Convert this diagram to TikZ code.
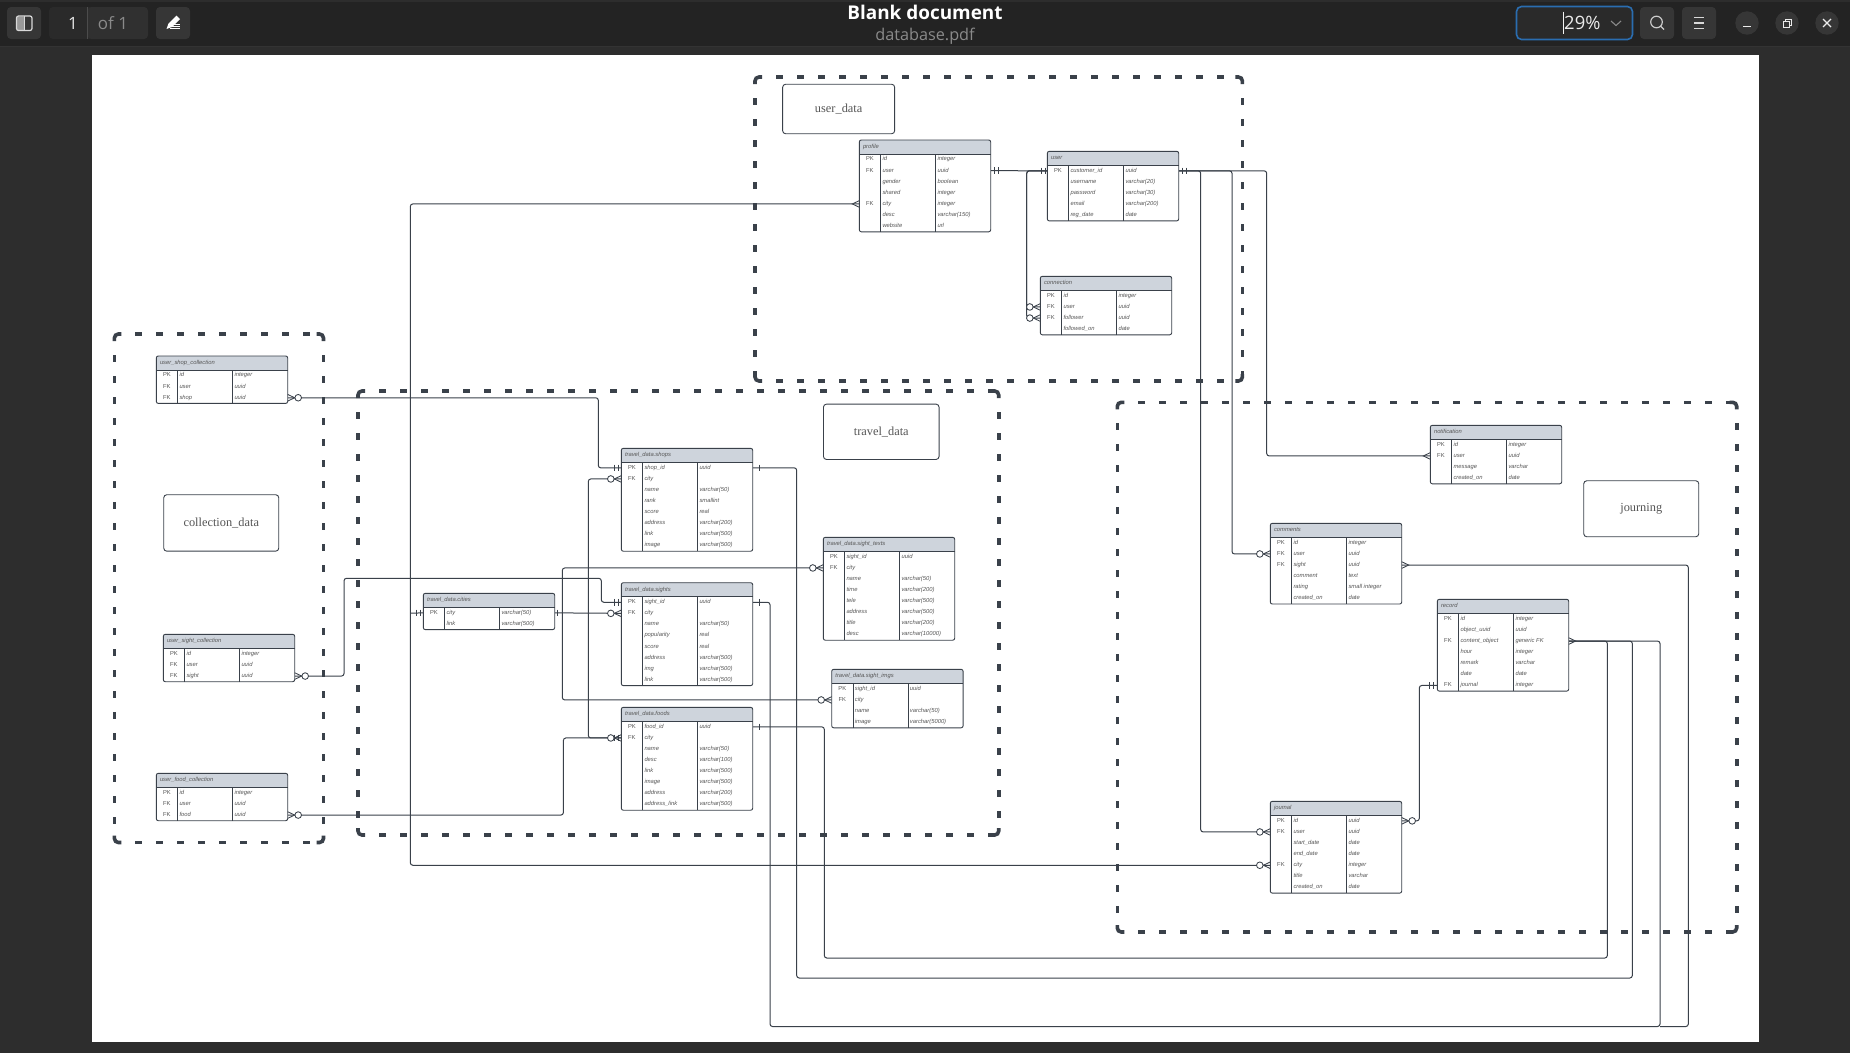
\documentclass[tikz,border=0pt]{standalone}
\usepackage{fontspec}
\setmainfont{Liberation Sans}
\newfontfamily\lblfont{Liberation Serif}
\newfontfamily\uifont{Open Sans}
\pgfdeclarelayer{pagebg}
\pgfdeclarelayer{connlayer}
\pgfsetlayers{pagebg,connlayer,main}
\definecolor{ink}{HTML}{3A414A}
\definecolor{headfill}{HTML}{CED4DC}
\definecolor{cellink}{HTML}{555555}
\definecolor{chromebg}{HTML}{2D2D2D}
\definecolor{barbg}{HTML}{232323}
\definecolor{btnbg}{HTML}{363636}
\definecolor{boxbg}{HTML}{2A2A2A}
\definecolor{uigray}{HTML}{8A8A8A}
\definecolor{focus}{HTML}{2A6DB0}
\tikzset{
  tablebox/.style={fill=white,rounded corners=2bp,inner sep=0pt,anchor=north west,minimum width=131.4bp},
  celltxt/.style={inner sep=0pt,anchor=base west,text=cellink,font=\fontsize{5.85}{7}\itshape\selectfont},
  keytxt/.style={inner sep=0pt,anchor=base,text=cellink,font=\fontsize{5.85}{7}\selectfont},
  conn/.style={draw=ink,line width=1bp,rounded corners=2.5bp},
  endmark/.style={draw=ink,line width=.85bp},
  zoneside/.style={draw=ink,line width=3.6bp,dash pattern=on 7bp off 14bp},
  zonecorner/.style={draw=ink,line width=3.6bp,rounded corners=4bp},
  labelbox/.style={draw=ink,line width=.9bp,fill=white,rounded corners=3bp,inner sep=0pt,text=cellink,font=\lblfont\fontsize{12.4}{14}\selectfont},
  uibtn/.style={fill=btnbg,rounded corners=4bp},
  uitxt/.style={inner sep=0pt,font=\uifont\fontsize{17}{20}\selectfont},
}
% name, x, y, rows, title, list
\newcommand{\ertable}[6]{%
  \node[tablebox,minimum height={14.1bp+11.1bp*#4}] (#1) at (#2,#3) {};
  \path[fill=headfill,rounded corners=2bp] ({#2},{#3+14}) -- ({#2},{#3}) -- ({#2+131.4},{#3}) [sharp corners] -- ({#2+131.4},{#3+14}) -- cycle;
  \draw[ink,line width=.9bp,rounded corners=2bp] ({#2},{#3+14.1+11.1*#4}) -- ({#2},{#3}) -- ({#2+131.4},{#3}) -- ({#2+131.4},{#3+14.1+11.1*#4}) -- cycle;
  \draw[ink,line width=.9bp] ({#2},{#3+14}) -- ({#2+131.4},{#3+14});
  \draw[ink,line width=.9bp] ({#2+21.3},{#3+14}) -- ({#2+21.3},{#3+14.1+11.1*#4});
  \draw[ink,line width=.9bp] ({#2+76.3},{#3+14}) -- ({#2+76.3},{#3+14.1+11.1*#4});
  \node[celltxt] (#1-title) at ({#2+3.5},{#3+8.6}) {#5};
  \foreach \kk/\cn/\ct [count=\i] in {#6} {
    \coordinate (#1-L\i) at ({#2},{#3+14+11.1*(\i-.5)});
    \coordinate (#1-R\i) at ({#2+131.4},{#3+14+11.1*(\i-.5)});
    \node[keytxt] (#1-k\i) at ({#2+10.6},{#3+15.4+11.1*(\i-.5)}) {\kk};
    \node[celltxt] (#1-c\i) at ({#2+23},{#3+15.4+11.1*(\i-.5)}) {\cn};
    \node[celltxt] (#1-t\i) at ({#2+78},{#3+15.4+11.1*(\i-.5)}) {\ct};
  }
}
% dashed zone: corners are solid strokes, sides are dashed from corner to corner
\newcommand{\zone}[4]{%
  \draw[zonecorner] (#1,{#2+7}) -- (#1,#2) -- ({#1+7},#2);
  \draw[zonecorner] ({#3-7},#2) -- (#3,#2) -- (#3,{#2+7});
  \draw[zonecorner] (#3,{#4-7}) -- (#3,#4) -- ({#3-7},#4);
  \draw[zonecorner] ({#1+7},#4) -- (#1,#4) -- (#1,{#4-7});
  \draw[zoneside] ({#1+21},#2) -- ({#3-7},#2);
  \draw[zoneside] ({#1+21},#4) -- ({#3-7},#4);
  \draw[zoneside] (#1,{#2+21}) -- (#1,{#4-7});
  \draw[zoneside] (#3,{#2+21}) -- (#3,{#4-7});
}
% end marks: coordinate, direction (+1 line leaves to the right, -1 to the left)
\newcommand{\crowmark}[2]{\begin{scope}[shift={(#1)},xscale=#2]
  \draw[endmark] (0,-3.3) -- (7,0) -- (0,3.3);
\end{scope}}
\newcommand{\crowzero}[2]{\begin{scope}[shift={(#1)},xscale=#2]
  \draw[endmark] (0,-3.3) -- (7,0) -- (0,3.3);
  \draw[endmark,fill=white] (10.5,0) circle (3.3);
\end{scope}}
\newcommand{\onebar}[3]{\begin{scope}[shift={(#1)},xscale=#2]
  \draw[endmark] (#3,-3.3) -- (#3,3.3);
\end{scope}}
\newcommand{\twobars}[3]{\begin{scope}[shift={(#1)},xscale=#2]
  \draw[endmark] (#3,-3.3) -- (#3,3.3);
  \draw[endmark] (#3+3.8,-3.3) -- (#3+3.8,3.3);
\end{scope}}
\begin{document}
\begin{tikzpicture}[x=1bp,y=-1bp]
\useasboundingbox (0,0) rectangle (1850,1053);
\begin{pgfonlayer}{pagebg}
  % window chrome
  \fill[chromebg] (0,0) rectangle (1850,1053);
  \fill[barbg] (0,2) rectangle (1850,46);
  \draw[black!80,line width=1bp] (0,46.5) -- (1850,46.5);
  \fill[white] (92,55) rectangle (1759,1042);
  % zones
  \zone{755}{77}{1242.4}{381}
  \zone{358}{391}{998.7}{835}
  \zone{114.4}{334}{323.5}{842.5}
  \zone{1117.3}{402.3}{1736.7}{932}
\end{pgfonlayer}

% window controls
\fill[uibtn] (7,7) rectangle (41,39);
\fill[white!60!black,rounded corners=1bp] (17,16.5) rectangle (24.5,30.5);
\draw[white!85!black,line width=1.2bp,rounded corners=2bp] (16.5,16) rectangle (32,30.5);
\draw[white!85!black,line width=1bp] (24.5,16) -- (24.5,30.5);
\fill[boxbg,rounded corners=4bp] (49,7) rectangle (148,39);
\fill[btnbg!50!boxbg,rounded corners=4bp] (87.5,7) rectangle (148,39);
\draw[black!70,line width=1bp] (87.5,7) -- (87.5,39);
\node[uitxt,text=white!90!black] (pagenum) at (73,23) {1};
\node[uitxt,text=uigray] (pageof) at (113,23) {of 1};
\fill[uibtn] (156,7) rectangle (190,39);
\fill[white] (166.5,29) -- (168.5,23.5) -- (176.5,15.5) -- (180,19) -- (172,27) -- cycle;
\draw[white,line width=.8bp] (174,24.5) -- (180,24.5) (172,26.5) -- (180,26.5) (170,28.6) -- (180,28.6);
\node[inner sep=0pt,text=white,font=\uifont\bfseries\fontsize{19}{22}\selectfont] (doctitle) at (925,12.5) {Blank document};
\node[inner sep=0pt,text=uigray,font=\uifont\fontsize{16.3}{18}\selectfont] (docfile) at (925,36) {database.pdf};
\fill[boxbg,rounded corners=5bp] (1516.5,6.5) rectangle (1632.5,39.5);
\draw[focus,line width=1.6bp,rounded corners=5bp] (1516.5,6.5) rectangle (1632.5,39.5);
\node[uitxt,anchor=west,text=white!92!black,font=\uifont\fontsize{18.5}{22}\selectfont] (zoomval) at (1564,23) {29\%};
\draw[white!95!black,line width=.9bp] (1563.5,11.5) -- (1563.5,34);
\draw[uigray,line width=1.1bp] (1611,21) -- (1616,25.5) -- (1621,21);
\fill[uibtn] (1640,7) rectangle (1674,39);
\draw[white!80!black,line width=1.2bp] (1656.5,22) circle (5.8) (1660.7,26.2) -- (1664,29.5);
\fill[uibtn] (1682,7) rectangle (1716,39);
\draw[white!85!black,line width=1.1bp] (1694,17.5) -- (1704,17.5) (1694,23) -- (1704,23) (1694,28.5) -- (1704,28.5);
\fill[btnbg] (1747,23) circle (11.7) (1787,23) circle (11.7) (1827,23) circle (11.7);
\draw[white!92!black,line width=1.1bp] (1743,26.5) -- (1751,26.5);
\draw[white!92!black,line width=1bp] (1783.5,21) rectangle (1789.5,27) (1785.5,21) -- (1785.5,19) -- (1791.5,19) -- (1791.5,25) -- (1789.5,25);
\draw[white!92!black,line width=1.2bp] (1823,19) -- (1831,27) (1831,19) -- (1823,27);

% region labels
\node[labelbox,anchor=north west,minimum width=112bp,minimum height=49.5bp] (lbluser) at (782.2,83.8) {user\_data};
\node[labelbox,anchor=north west,minimum width=115.6bp,minimum height=55.3bp] (lbltravel) at (823,403.7) {\raisebox{.8bp}{travel\_data}};
\node[labelbox,anchor=north west,minimum width=115bp,minimum height=56.4bp] (lblcoll) at (163.3,494.3) {\raisebox{1.2bp}{collection\_data}};
\node[labelbox,anchor=north west,minimum width=115bp,minimum height=56bp] (lbljourn) at (1583.3,480.3) {\raisebox{1bp}{journing}};

% tables
\ertable{profile}{859.3}{140}{7}{profile}{PK/id/integer,FK/user/uuid,/gender/boolean,/shared/integer,FK/city/integer,/desc/varchar(150),/website/url}
\ertable{user}{1047.3}{151.3}{5}{user}{PK/customer\_id/uuid,/username/varchar(20),/password/varchar(30),/email/varchar(200),/reg\_date/date}
\ertable{connection}{1040.3}{276.3}{4}{connection}{PK/id/integer,FK/user/uuid,FK/follower/uuid,/followed\_on/date}
\ertable{shopcoll}{156.3}{356}{3}{user\_shop\_collection}{PK/id/integer,FK/user/uuid,FK/shop/uuid}
\ertable{sightcoll}{163.3}{634.3}{3}{user\_sight\_collection}{PK/id/integer,FK/user/uuid,FK/sight/uuid}
\ertable{foodcoll}{156.3}{773.3}{3}{user\_food\_collection}{PK/id/integer,FK/user/uuid,FK/food/uuid}
\ertable{cities}{423.3}{593.3}{2}{travel\_data.cities}{PK/city/varchar(50),/link/varchar(500)}
\ertable{shops}{621.3}{448.3}{8}{travel\_data.shops}{PK/shop\_id/uuid,FK/city/,/name/varchar(50),/rank/smallint,/score/real,/address/varchar(200),/link/varchar(500),/image/varchar(500)}
\ertable{sights}{621.3}{582.7}{8}{travel\_data.sights}{PK/sight\_id/uuid,FK/city/,/name/varchar(50),/popularity/real,/score/real,/address/varchar(500),/img/varchar(500),/link/varchar(500)}
\ertable{foods}{621.3}{707.3}{8}{travel\_data.foods}{PK/food\_id/uuid,FK/city/,/name/varchar(50),/desc/varchar(100),/link/varchar(500),/image/varchar(500),/address/varchar(200),/address\_link/varchar(500)}
\ertable{texts}{823.3}{537.3}{8}{travel\_data.sight\_texts}{PK/sight\_id/uuid,FK/city/,/name/varchar(50),/time/varchar(200),/tele/varchar(500),/address/varchar(500),/title/varchar(200),/desc/varchar(10000)}
\ertable{imgs}{831.7}{669.3}{4}{travel\_data.sight\_imgs}{PK/sight\_id/uuid,FK/city/,/name/varchar(50),/image/varchar(5000)}
\ertable{notification}{1430.3}{425.3}{4}{notification}{PK/id/integer,FK/user/uuid,/message/varchar,/created\_on/date}
\ertable{comments}{1270.3}{523.3}{6}{comments}{PK/id/integer,FK/user/uuid,FK/sight/uuid,/comment/text,/rating/small integer,/created\_on/date}
\ertable{record}{1437.3}{599.3}{7}{record}{PK/id/integer,/object\_uuid/uuid,FK/content\_object/generic FK,/hour/integer,/remark/varchar,/date/date,FK/journal/integer}
\ertable{journal}{1270.3}{801.3}{7}{journal}{PK/id/uuid,FK/user/uuid,/start\_date/date,/end\_date/date,FK/city/integer,/title/varchar,/created\_on/date}

% route points
\coordinate (vConn) at (1026.7,250);
\coordinate (vNotif) at (1266.7,300);
\coordinate (vJourn) at (1200.7,500);
\coordinate (vComm) at (1232,400);
\coordinate (vCity) at (410.3,613.2);
\coordinate (vShop) at (598.3,430);
\coordinate (hSight) at (344,578.3);
\coordinate (vSight) at (601.3,590);
\coordinate (vFood) at (563.4,780);
\coordinate (vHub) at (588.3,613.2);
\coordinate (vText) at (562.3,613.2);
\coordinate (vRecord) at (1419.3,750);
\coordinate (sShopA) at (796.7,978);
\coordinate (sShopB) at (1632.3,978);
\coordinate (sFoodA) at (824.3,958);
\coordinate (sFoodB) at (1607.3,958);
\coordinate (sSightA) at (770,1026.5);
\coordinate (sSightB) at (1660,1026.5);
\coordinate (sSightC) at (1688.3,1026.5);

\begin{pgfonlayer}{connlayer}
  \draw[conn] (profile-R2) -- (user-L1);
  \draw[conn] (user-L1) -| (vConn) |- (connection-L2);
  \draw[conn] (user-L1) -| (vConn) |- (connection-L3);
  \draw[conn] (user-R1) -| (vNotif) |- (notification-L2);
  \draw[conn] (user-R1) -| (vJourn) |- (journal-L2);
  \draw[conn] (user-R1) -| (vComm) |- (comments-L2);
  \draw[conn] (profile-L5) -| (vCity) |- (journal-L5);
  \draw[conn] (vCity) -- (cities-L1);
  \draw[conn] (shopcoll-R3) -| (vShop) |- (shops-L1);
  \draw[conn] (sightcoll-R3) -| (hSight) -| (vSight) |- (sights-L1);
  \draw[conn] (foodcoll-R3) -| (vFood) |- (foods-L2);
  \draw[conn] (cities-R1) -- (sights-L2);
  \draw[conn] (vHub) |- (shops-L2);
  \draw[conn] (vHub) |- (foods-L2);
  \draw[conn] (vText) |- (texts-L2);
  \draw[conn] (vText) |- (imgs-L2);
  \draw[conn] (shops-R1) -| (sShopA) -- (sShopB) |- (record-R3);
  \draw[conn] (foods-R1) -| (sFoodA) -- (sFoodB) |- (record-R3);
  \draw[conn] (sights-R1) -| (sSightA) -- (sSightB) |- (record-R3);
  \draw[conn] (sSightB) -- (sSightC) |- (comments-R3);
  \draw[conn] (journal-R1) -| (vRecord) |- (record-L7);
\end{pgfonlayer}

% line ends
\twobars{profile-R2}{1}{3.6}
\twobars{user-L1}{-1}{2.3}
\twobars{user-R1}{1}{4}
\crowzero{connection-L2}{-1}
\crowzero{connection-L3}{-1}
\crowmark{notification-L2}{-1}
\crowzero{journal-L2}{-1}
\crowzero{comments-L2}{-1}
\crowmark{profile-L5}{-1}
\crowzero{journal-L5}{-1}
\twobars{cities-L1}{-1}{2.6}
\crowzero{shopcoll-R3}{1}
\twobars{shops-L1}{-1}{3.3}
\crowzero{sightcoll-R3}{1}
\twobars{sights-L1}{-1}{3.3}
\crowzero{foodcoll-R3}{1}
\onebar{cities-R1}{1}{3}
\crowzero{sights-L2}{-1}
\crowzero{shops-L2}{-1}
\crowzero{foods-L2}{-1}
\twobars{foods-L2}{-1}{3.3}
\crowzero{texts-L2}{-1}
\crowzero{imgs-L2}{-1}
\onebar{shops-R1}{1}{7}
\onebar{sights-R1}{1}{7}
\onebar{foods-R1}{1}{7}
\crowmark{record-R3}{1}
\crowmark{comments-R3}{1}
\crowzero{journal-R1}{1}
\twobars{record-L7}{-1}{4}
\end{tikzpicture}
\end{document}
